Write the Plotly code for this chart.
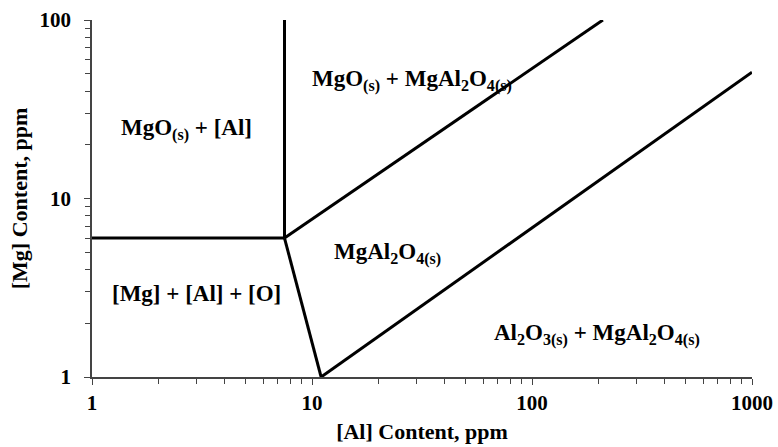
import math
import plotly.graph_objects as go

# Phase boundaries of the Mg-Al-O stability diagram (ppm)
al_horiz = [1, 7.5]
mg_horiz = [6, 6]

al_vert = [7.5, 7.5]
mg_vert = [6, 100]

al_diag = [7.5, 11]
mg_diag = [6, 1]

al_upper = [7.5, 210]
mg_upper = [6, 100]

al_lower = [11, 1000]
mg_lower = [1, 51]

# Region labels
label_text = [
    "MgO<sub>(s)</sub> + [Al]",
    "MgO<sub>(s)</sub> + MgAl<sub>2</sub>O<sub>4(s)</sub>",
    "MgAl<sub>2</sub>O<sub>4(s)</sub>",
    "[Mg] + [Al] + [O]",
    "Al<sub>2</sub>O<sub>3(s)</sub> + MgAl<sub>2</sub>O<sub>4(s)</sub>",
]
label_al = [2.7, 28.5, 22.0, 3.0, 197]
label_mg = [24.5, 46, 4.95, 2.92, 1.74]

FONT = "Liberation Serif"

fig = go.Figure()
for xs, ys in [(al_horiz, mg_horiz), (al_vert, mg_vert), (al_diag, mg_diag),
               (al_upper, mg_upper), (al_lower, mg_lower)]:
    fig.add_trace(go.Scatter(x=xs, y=ys, mode="lines",
                             line=dict(color="black", width=3),
                             showlegend=False, hoverinfo="skip"))

# annotations on log axes are positioned in log10 units
for t, x, y in zip(label_text, label_al, label_mg):
    fig.add_annotation(x=math.log10(x), y=math.log10(y), xref="x", yref="y",
                       text="<b>" + t + "</b>", showarrow=False,
                       font=dict(family=FONT, size=23, color="black"))

axis_common = dict(
    type="log",
    automargin=False,
    showgrid=False,
    zeroline=False,
    showline=True,
    linecolor="#444444",
    linewidth=1.5,
    ticks="outside",
    ticklen=6,
    tickwidth=1.2,
    tickcolor="#444444",
    tickfont=dict(family=FONT, size=21, color="black"),
    minor=dict(ticks="outside", ticklen=5, tickwidth=1.2,
               tickcolor="#444444", dtick="D1", showgrid=False),
)

fig.update_xaxes(**axis_common, range=[0, 3],
                 tickvals=[1, 10, 100, 1000],
                 ticktext=["<b>1</b>", "<b>10</b>", "<b>100</b>", "<b>1000</b>"],
                 title=dict(text="<b>[Al] Content, ppm</b>",
                            font=dict(family=FONT, size=22, color="black"),
                            standoff=10))
fig.update_yaxes(**axis_common, range=[0, 2],
                 tickvals=[1, 10, 100],
                 ticktext=["<b>1</b>", "<b>10</b>", "<b>100</b>"],
                 ticklabelstandoff=9,
                 title=dict(text="<b>[Mg] Content, ppm</b>",
                            font=dict(family=FONT, size=22, color="black"),
                            standoff=6))

fig.update_layout(
    width=778, height=447,
    margin=dict(l=92, r=26, t=20, b=70),
    plot_bgcolor="white", paper_bgcolor="white",
)

fig.write_html("out.html")
